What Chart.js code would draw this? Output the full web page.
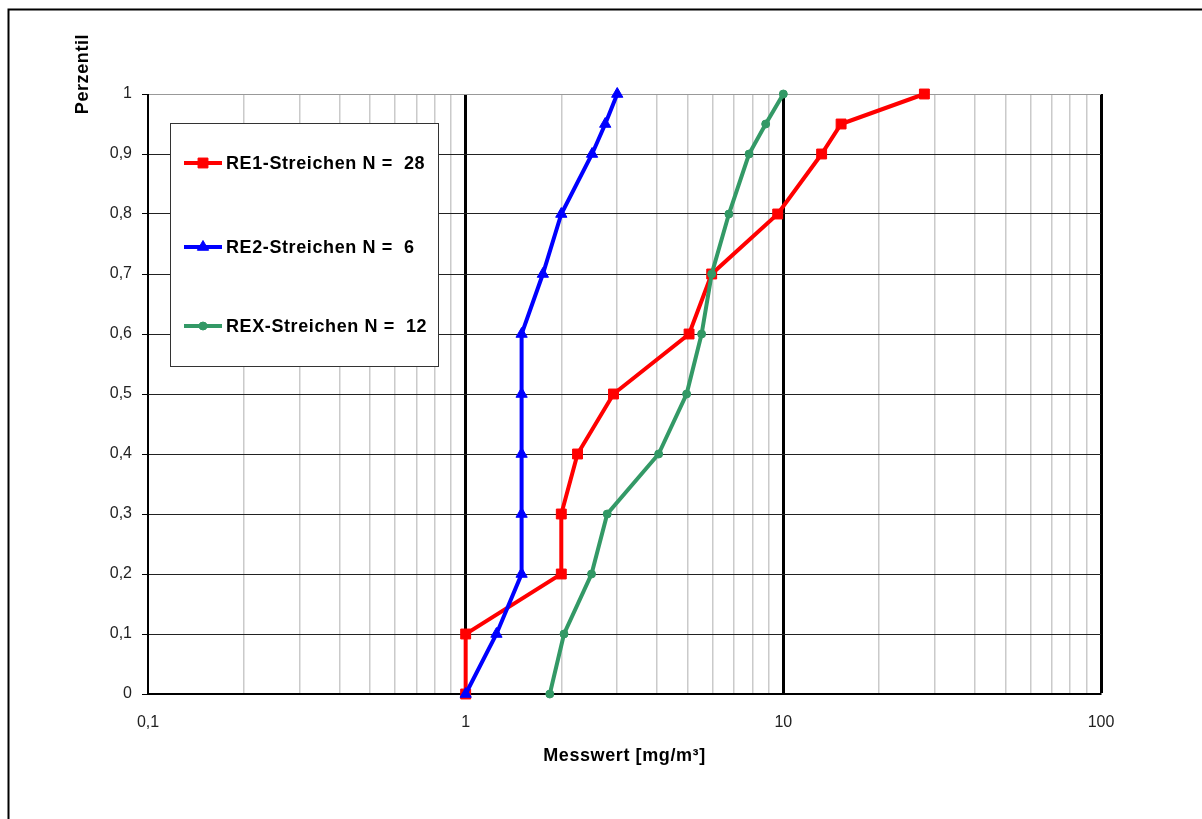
<!DOCTYPE html>
<html>
<head>
<meta charset="utf-8">
<script src="https://cdn.jsdelivr.net/npm/chart.js@4.4.1/dist/chart.umd.min.js"></script>
<style>
  html, body { margin: 0; padding: 0; background: #fff; overflow: hidden; }
  #wrap { position: relative; width: 1202px; height: 819px; }
  canvas { display: block; }
</style>
</head>
<body>
<div id="wrap"><canvas id="c" width="1202" height="819"></canvas></div>
<script>
// Percentile levels shared by all three series
const percentiles = [0, 0.1, 0.2, 0.3, 0.4, 0.5, 0.6, 0.7, 0.8, 0.9, 0.95, 1];

// Measured values in mg/m³ for each percentile
const re1Values = [1.0, 1.0, 2.0, 2.0, 2.25, 2.92, 5.05, 5.95, 9.6, 13.2, 15.2, 27.8];
const re2Values = [1.0, 1.25, 1.5, 1.5, 1.5, 1.5, 1.5, 1.75, 2.0, 2.5, 2.75, 3.0];
const rexValues = [1.84, 2.04, 2.49, 2.79, 4.05, 4.96, 5.53, 5.95, 6.74, 7.8, 8.8, 10.0];

const seriesLabels = ['RE1-Streichen N =  28', 'RE2-Streichen N =  6', 'REX-Streichen N =  12'];
const seriesColors = ['#ff0000', '#0000ff', '#339966'];
const seriesMarkers = ['rect', 'triangle', 'circle'];
const markerRadius = [7, 6.5, 4];

// Axis ticks and labels
const xDecades = [0.1, 1, 10, 100];
const xTickLabels = ['0,1', '1', '10', '100'];
const yTickLabels = ['0', '0,1', '0,2', '0,3', '0,4', '0,5', '0,6', '0,7', '0,8', '0,9', '1'];
const xTitle = 'Messwert [mg/m³]';
const yTitle = 'Perzentil';

const FONT = '"Liberation Sans", Arial, sans-serif';
const BOLD = 'bold 18px ' + FONT;

function toPoints(values) {
  return values.map((v, i) => ({ x: v, y: percentiles[i] }));
}

function decadeIndex(v) {
  const lv = Math.log10(v);
  return xDecades.findIndex(d => Math.abs(Math.log10(d) - lv) < 1e-6);
}

const allValues = [re1Values, re2Values, rexValues];
const datasets = allValues.map((vals, i) => ({
  label: seriesLabels[i],
  data: toPoints(vals),
  order: allValues.length - 1 - i, // later series are painted on top
  showLine: true,
  clip: false,
  borderColor: seriesColors[i],
  backgroundColor: seriesColors[i],
  borderWidth: 4,
  pointStyle: seriesMarkers[i],
  pointRadius: markerRadius[i],
  pointHoverRadius: markerRadius[i],
  pointBorderWidth: 1,
  pointBorderColor: seriesColors[i],
  pointBackgroundColor: seriesColors[i],
  tension: 0
}));

// Frame, legend box and axis titles
const decorations = {
  id: 'decorations',
  beforeDraw(chart) {
    const ctx = chart.ctx;
    ctx.save();
    ctx.fillStyle = '#fff';
    ctx.fillRect(0, 0, chart.width, chart.height);
    ctx.strokeStyle = '#000';
    ctx.lineWidth = 2;
    ctx.beginPath();
    ctx.moveTo(8.5, chart.height + 5);
    ctx.lineTo(8.5, 9.5);
    ctx.lineTo(chart.width + 5, 9.5);
    ctx.stroke();
    ctx.restore();
  },
  afterDatasetsDraw(chart) {
    const ctx = chart.ctx;
    ctx.save();
    // legend box
    ctx.fillStyle = '#fff';
    ctx.fillRect(170, 123, 268, 243);
    ctx.strokeStyle = '#333';
    ctx.lineWidth = 1;
    ctx.strokeRect(170.5, 123.5, 268, 243);
    const rowsY = [163, 247, 326];
    chart.data.datasets.forEach((ds, i) => {
      const y = rowsY[i];
      ctx.strokeStyle = ds.borderColor;
      ctx.lineWidth = 4;
      ctx.beginPath();
      ctx.moveTo(184, y);
      ctx.lineTo(222, y);
      ctx.stroke();
      ctx.fillStyle = ds.backgroundColor;
      ctx.strokeStyle = ds.borderColor;
      ctx.lineWidth = 1;
      Chart.helpers.drawPoint(ctx, { pointStyle: ds.pointStyle, radius: ds.pointRadius, borderWidth: 1, rotation: 0 }, 203, y);
      ctx.fillStyle = '#000';
      ctx.font = BOLD;
      ctx.letterSpacing = '0.6px';
      ctx.textAlign = 'left';
      ctx.textBaseline = 'middle';
      ctx.fillText(ds.label, 226, y + 1);
      ctx.letterSpacing = '0px';
    });
    ctx.restore();
  },
  afterDraw(chart) {
    const ctx = chart.ctx;
    const area = chart.chartArea;
    ctx.save();
    ctx.fillStyle = '#000';
    ctx.font = BOLD;
    ctx.letterSpacing = '0.6px';
    ctx.textAlign = 'center';
    ctx.textBaseline = 'middle';
    ctx.fillText(xTitle, (area.left + area.right) / 2, 756);
    ctx.translate(83, 74);
    ctx.rotate(-Math.PI / 2);
    ctx.fillText(yTitle, 0, 0);
    ctx.letterSpacing = '0px';
    ctx.restore();
  }
};

new Chart(document.getElementById('c'), {
  type: 'scatter',
  data: { datasets },
  options: {
    responsive: false,
    animation: false,
    events: [],
    layout: { padding: { top: 94, right: 101, left: 0, bottom: 0 } },
    plugins: { legend: { display: false }, tooltip: { enabled: false } },
    scales: {
      x: {
        type: 'logarithmic',
        min: xDecades[0],
        max: xDecades[xDecades.length - 1],
        afterBuildTicks(scale) {
          const ticks = [];
          for (let d = 0; d < xDecades.length - 1; d++) {
            for (let m = 1; m <= 9; m++) ticks.push({ value: xDecades[d] * m });
          }
          ticks.push({ value: xDecades[xDecades.length - 1] });
          scale.ticks = ticks;
        },
        afterFit(scale) { scale.height = 125; },
        grid: {
          drawTicks: false,
          color: ctx => decadeIndex(ctx.tick.value) >= 0 ? '#000' : '#cacaca',
          lineWidth: ctx => {
            const k = decadeIndex(ctx.tick.value);
            return k > 0 ? 3 : 1.5;
          }
        },
        border: { display: true, color: '#000', width: 2 },
        ticks: {
          autoSkip: false,
          maxRotation: 0,
          padding: 19,
          color: '#222',
          font: { family: FONT, size: 16 },
          callback: (v) => {
            const k = decadeIndex(v);
            return k >= 0 ? xTickLabels[k] : '';
          }
        }
      },
      y: {
        type: 'linear',
        min: 0,
        max: 1,
        afterFit(scale) { scale.width = 148; },
        grid: {
          color: ctx => (ctx.tick && ctx.tick.value >= 0.999) ? '#999' : '#222',
          lineWidth: 1,
          tickColor: '#000',
          tickLength: 6
        },
        border: { display: true, color: '#000', width: 1 },
        ticks: {
          stepSize: 0.1,
          padding: 10,
          color: '#222',
          font: { family: FONT, size: 16 },
          callback: (v, i) => yTickLabels[i]
        }
      }
    }
  },
  plugins: [decorations]
});
</script>
</body>
</html>
